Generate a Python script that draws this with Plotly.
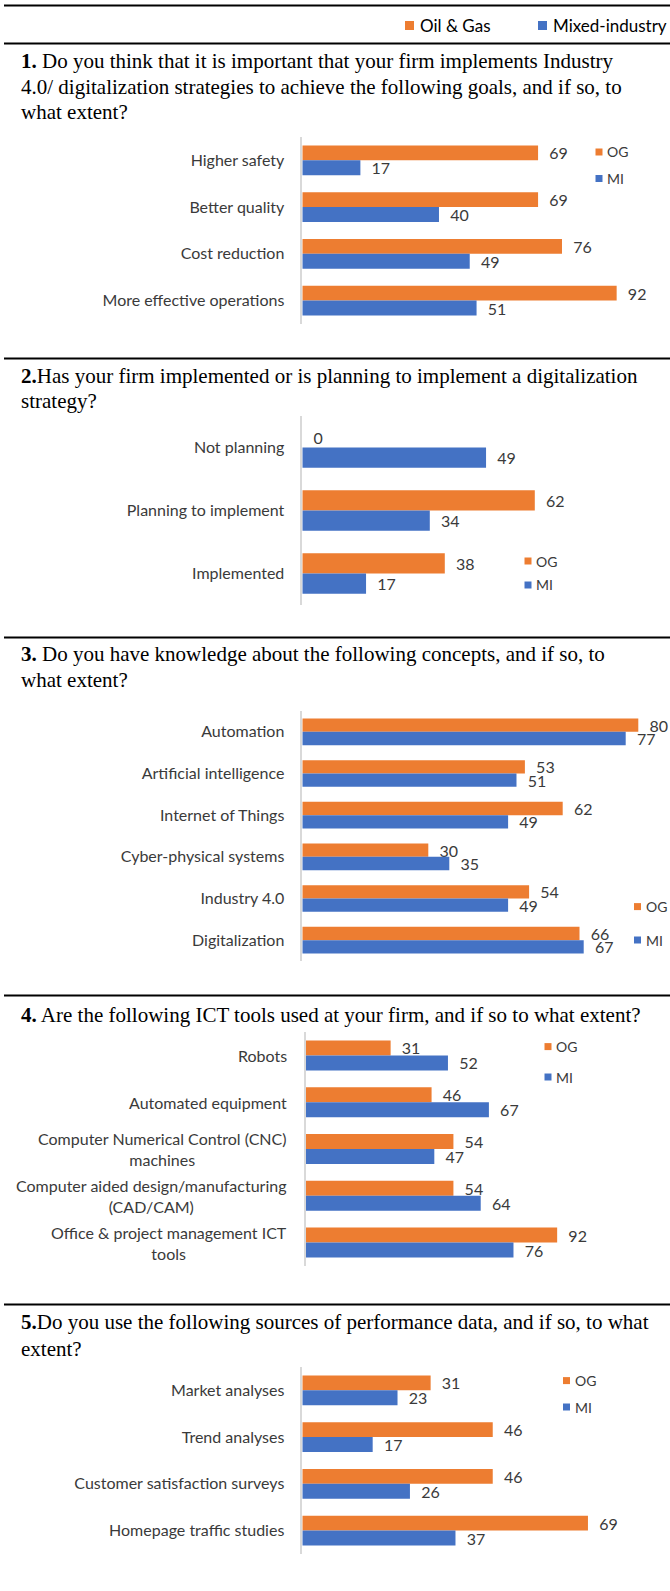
import plotly.graph_objects as go

W, H = 670, 1591

# ---------------- data ----------------
series_names = ["OG", "MI"]
legend_names = ["Oil & Gas", "Mixed-industry"]
colors = ["#ED7D31", "#4472C4"]

q1_lines = ["<b>1.</b> Do you think that it is important that your firm implements Industry",
            "4.0/ digitalization strategies to achieve the following goals, and if so, to",
            "what extent?"]
q1_categories = ["Higher safety", "Better quality", "Cost reduction", "More effective operations"]
q1_og = [69, 69, 76, 92]
q1_mi = [17, 40, 49, 51]

q2_lines = ["<b>2.</b>Has your firm implemented or is planning to implement a digitalization",
            "strategy?"]
q2_categories = ["Not planning", "Planning to implement", "Implemented"]
q2_og = [0, 62, 38]
q2_mi = [49, 34, 17]

q3_lines = ["<b>3.</b> Do you have knowledge about the following concepts, and if so, to",
            "what extent?"]
q3_categories = ["Automation", "Artificial intelligence", "Internet of Things",
                 "Cyber-physical systems", "Industry 4.0", "Digitalization"]
q3_og = [80, 53, 62, 30, 54, 66]
q3_mi = [77, 51, 49, 35, 49, 67]

q4_lines = ["<b>4.</b> Are the following ICT tools used at your firm, and if so to what extent?"]
q4_categories = ["Robots", "Automated equipment",
                 "Computer Numerical Control (CNC)<br>machines",
                 "Computer aided design/manufacturing<br>(CAD/CAM)",
                 "Office & project management ICT<br>tools"]
q4_og = [31, 46, 54, 54, 92]
q4_mi = [52, 67, 47, 64, 76]

q5_lines = ["<b>5.</b>Do you use the following sources of performance data, and if so, to what",
            "extent?"]
q5_categories = ["Market analyses", "Trend analyses", "Customer satisfaction surveys",
                 "Homepage traffic studies"]
q5_og = [31, 46, 46, 69]
q5_mi = [23, 17, 26, 37]

# ---------------- layout helpers (pixel geometry) ----------------
def px(x):
    return x / W

def py(y):
    return 1 - y / H

LABEL_FONT = "Lato"
SERIF = "Liberation Serif"
TXT = "#3a3a3a"

panels = [
    dict(cats=q1_categories, og=q1_og, mi=q1_mi, top=137, bot=324, ax=302.3, ppu=3.417,
         lines=q1_lines, ly=[61.5, 87, 112], leg=(599, 152, 178.5), ticks=True),
    dict(cats=q2_categories, og=q2_og, mi=q2_mi, top=416, bot=605, ax=302.3, ppu=3.75,
         lines=q2_lines, ly=[375.5, 401], leg=(528, 561, 585), ticks=True),
    dict(cats=q3_categories, og=q3_og, mi=q3_mi, top=711, bot=961, ax=302.3, ppu=4.2,
         lines=q3_lines, ly=[654, 680], leg=(637.5, 906.6, 940), ticks=True),
    dict(cats=q4_categories, og=q4_og, mi=q4_mi, top=1032, bot=1266, ax=306, ppu=2.73,
         lines=q4_lines, ly=[1015], leg=(548, 1046.6, 1077), ticks=False),
    dict(cats=q5_categories, og=q5_og, mi=q5_mi, top=1367, bot=1554, ax=302.3, ppu=4.14,
         lines=q5_lines, ly=[1322, 1349], leg=(566.5, 1380.6, 1407), ticks=True),
]

fig = go.Figure()
annotations = []
shapes = []
layout_axes = {}

for i, p in enumerate(panels, start=1):
    xa = "x" if i == 1 else f"x{i}"
    ya = "y" if i == 1 else f"y{i}"
    for name, vals, col in zip(series_names, [p["og"], p["mi"]], colors):
        fig.add_trace(go.Bar(
            y=p["cats"], x=vals, name=name, orientation="h",
            marker=dict(color=col, line=dict(width=0)),
            text=vals, texttemplate="\u00a0\u00a0%{x}", textposition="outside",
            textfont=dict(family=LABEL_FONT, size=16, color=TXT),
            constraintext="none", cliponaxis=False, showlegend=False,
            xaxis=xa, yaxis=ya, hoverinfo="skip"))
    n = len(p["cats"])
    xmax = (W - p["ax"]) / p["ppu"]
    layout_axes["xaxis" if i == 1 else f"xaxis{i}"] = dict(
        domain=[px(p["ax"]), 1.0], range=[0, xmax], visible=False, anchor=ya, fixedrange=True)
    layout_axes["yaxis" if i == 1 else f"yaxis{i}"] = dict(
        domain=[py(p["bot"]), py(p["top"])], type="category", range=[n - 0.5, -0.5],
        anchor=xa, showline=True, linecolor="#d9d9d9", linewidth=1.5, ticks="",
        showgrid=False, zeroline=False, showticklabels=p["ticks"], ticklabelstandoff=13,
        tickfont=dict(family=LABEL_FONT, size=16, color=TXT), fixedrange=True)
    if not p["ticks"]:
        for c in p["cats"]:
            annotations.append(dict(xref="paper", yref=ya, x=px(p["ax"] - 17), y=c,
                                    text=c, showarrow=False, xanchor="right", yanchor="middle",
                                    align="center", font=dict(family=LABEL_FONT, size=16, color=TXT)))
    # heading
    for line, yy in zip(p["lines"], p["ly"]):
        annotations.append(dict(xref="paper", yref="paper", x=px(19), y=py(yy), text=line,
                                showarrow=False, xanchor="left", yanchor="middle",
                                font=dict(family=SERIF, size=21, color="black")))
    # mini legend
    lx, ly1, ly2 = p["leg"]
    for name, col, yy in zip(series_names, colors, [ly1, ly2]):
        s = 3.5
        shapes.append(dict(type="rect", xref="paper", yref="paper",
                           x0=px(lx - s), x1=px(lx + s), y0=py(yy + s), y1=py(yy - s),
                           fillcolor=col, line=dict(width=0)))
        annotations.append(dict(xref="paper", yref="paper", x=px(lx + 6), y=py(yy), text=name,
                                showarrow=False, xanchor="left", yanchor="middle",
                                font=dict(family=LABEL_FONT, size=14, color=TXT)))

# top legend
for name, col, sx in zip(legend_names, colors, [409.5, 542.5]):
    s = 4.5
    shapes.append(dict(type="rect", xref="paper", yref="paper",
                       x0=px(sx - s), x1=px(sx + s), y0=py(25.5 + s), y1=py(25.5 - s),
                       fillcolor=col, line=dict(width=0)))
    annotations.append(dict(xref="paper", yref="paper", x=px(sx + 8), y=py(25.5), text=name,
                            showarrow=False, xanchor="left", yanchor="middle",
                            font=dict(family=LABEL_FONT, size=17, color="black")))

# horizontal rules
for yy in [5.5, 43.5, 358.5, 637.5, 995.5, 1304.5]:
    shapes.append(dict(type="line", xref="paper", yref="paper", x0=px(4), x1=1.0,
                       y0=py(yy), y1=py(yy), line=dict(color="black", width=2)))

fig.update_layout(
    width=W, height=H, margin=dict(l=0, r=0, t=0, b=0),
    paper_bgcolor="white", plot_bgcolor="white",
    barmode="group", bargap=0.36, bargroupgap=0,
    showlegend=False, annotations=annotations, shapes=shapes,
    **layout_axes)

fig.write_html("out.html")
